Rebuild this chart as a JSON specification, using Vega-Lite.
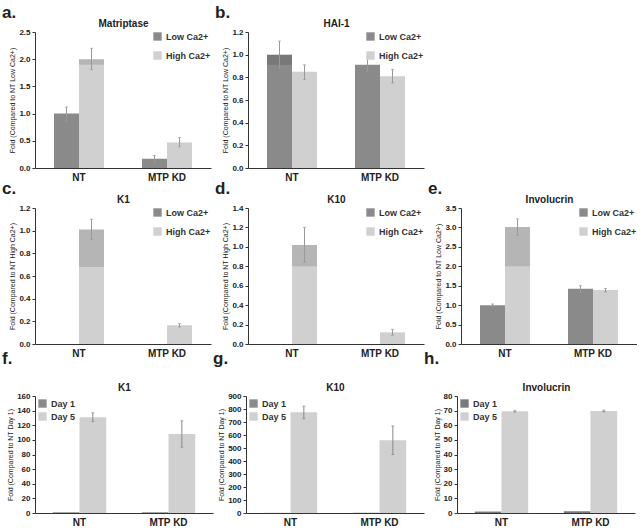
{
"$schema": "https://vega.github.io/schema/vega-lite/v6.json",
"padding": {"left": 2, "top": 4, "right": 0, "bottom": 0},
"background": "white",
"data": {"name": "bars"},
"datasets": {"bars": [
{"panel": "a", "group": "NT", "cond": "Low Ca2+", "value": 1.0, "lo": 0.86, "hi": 1.12},
{"panel": "a", "group": "NT", "cond": "High Ca2+", "value": 2.0, "shade": 1.9, "lo": 1.81, "hi": 2.2},
{"panel": "a", "group": "MTP KD", "cond": "Low Ca2+", "value": 0.17, "lo": 0.11, "hi": 0.23},
{"panel": "a", "group": "MTP KD", "cond": "High Ca2+", "value": 0.47, "lo": 0.39, "hi": 0.56},
{"panel": "b", "group": "NT", "cond": "Low Ca2+", "value": 1.0, "shade": 0.91, "lo": 0.88, "hi": 1.12},
{"panel": "b", "group": "NT", "cond": "High Ca2+", "value": 0.85, "lo": 0.78, "hi": 0.91},
{"panel": "b", "group": "MTP KD", "cond": "Low Ca2+", "value": 0.91, "lo": 0.85, "hi": 0.97},
{"panel": "b", "group": "MTP KD", "cond": "High Ca2+", "value": 0.81, "lo": 0.75, "hi": 0.87},
{"panel": "c", "group": "NT", "cond": "Low Ca2+", "value": 0},
{"panel": "c", "group": "NT", "cond": "High Ca2+", "value": 1.01, "shade": 0.68, "lo": 0.92, "hi": 1.1},
{"panel": "c", "group": "MTP KD", "cond": "Low Ca2+", "value": 0},
{"panel": "c", "group": "MTP KD", "cond": "High Ca2+", "value": 0.165, "lo": 0.15, "hi": 0.18},
{"panel": "d", "group": "NT", "cond": "Low Ca2+", "value": 0},
{"panel": "d", "group": "NT", "cond": "High Ca2+", "value": 1.02, "shade": 0.8, "lo": 0.84, "hi": 1.2},
{"panel": "d", "group": "MTP KD", "cond": "Low Ca2+", "value": 0},
{"panel": "d", "group": "MTP KD", "cond": "High Ca2+", "value": 0.12, "lo": 0.09, "hi": 0.15},
{"panel": "e", "group": "NT", "cond": "Low Ca2+", "value": 1.0, "lo": 0.96, "hi": 1.03},
{"panel": "e", "group": "NT", "cond": "High Ca2+", "value": 3.01, "shade": 2.0, "lo": 2.8, "hi": 3.22},
{"panel": "e", "group": "MTP KD", "cond": "Low Ca2+", "value": 1.42, "lo": 1.33, "hi": 1.5},
{"panel": "e", "group": "MTP KD", "cond": "High Ca2+", "value": 1.39, "lo": 1.34, "hi": 1.43},
{"panel": "f", "group": "NT", "cond": "Day 1", "value": 1},
{"panel": "f", "group": "NT", "cond": "Day 5", "value": 131, "lo": 125, "hi": 137},
{"panel": "f", "group": "MTP KD", "cond": "Day 1", "value": 1},
{"panel": "f", "group": "MTP KD", "cond": "Day 5", "value": 108, "lo": 90, "hi": 126},
{"panel": "g", "group": "NT", "cond": "Day 1", "value": 1},
{"panel": "g", "group": "NT", "cond": "Day 5", "value": 775, "lo": 725, "hi": 822},
{"panel": "g", "group": "MTP KD", "cond": "Day 1", "value": 1},
{"panel": "g", "group": "MTP KD", "cond": "Day 5", "value": 560, "lo": 450, "hi": 670},
{"panel": "h", "group": "NT", "cond": "Day 1", "value": 1.0},
{"panel": "h", "group": "NT", "cond": "Day 5", "value": 69.5, "lo": 69.0, "hi": 70.0},
{"panel": "h", "group": "MTP KD", "cond": "Day 1", "value": 1.2},
{"panel": "h", "group": "MTP KD", "cond": "Day 5", "value": 69.7, "lo": 69.2, "hi": 70.3}
]},
"config": {
"view": {"stroke": null},
"font": "Liberation Sans",
"axis": {"grid": false, "domainColor": "#333", "tickColor": "#333", "labelColor": "#222", "titleColor": "#222"},
"axisX": {"ticks": false, "labelFontSize": 10, "labelFontWeight": "bold", "labelPadding": 4, "labelAngle": 0},
"axisY": {"labelFontSize": 8, "labelFontWeight": "bold", "tickSize": 3, "labelPadding": 2, "titleFontSize": 7, "titleFontWeight": "normal", "titlePadding": 3, "labelOverlap": false, "labelFlush": false},
"legend": {"symbolType": "square", "symbolSize": 70, "labelFontSize": 9, "labelFontWeight": "bold", "rowPadding": 9, "offset": 0, "padding": 0, "symbolStrokeWidth": 0, "labelColor": "#333"},
"title": {"color": "#222", "anchor": "start", "frame": "group", "dx": -33, "fontSize": 17, "fontWeight": "bold", "offset": -4}
},
"spacing": -8,
"resolve": {"scale": {"x": "independent", "y": "independent", "color": "independent", "xOffset": "independent"}},
"vconcat": [
{
"spacing": -2,
"resolve": {"scale": {"x": "independent", "y": "independent", "color": "independent", "xOffset": "independent"}},
"vconcat": [
{
"spacing": 4,
"resolve": {"scale": {"x": "independent", "y": "independent", "color": "independent", "xOffset": "independent"}},
"hconcat": [
{
"width": 176, "height": 136,
"title": "a.",
"transform": [{"filter": "datum.panel == 'a'"}],
"resolve": {"axis": {"x": "independent"}},
"encoding": {
"xOffset": {"field": "cond", "type": "nominal", "sort": ["Low Ca2+", "High Ca2+"], "scale": {"paddingInner": 0, "paddingOuter": 0.76}}
},
"layer": [
{"mark": "bar", "encoding": {"x": {"field": "group", "type": "nominal", "sort": ["NT", "MTP KD"], "title": null, "scale": {"paddingInner": 0, "paddingOuter": 0}}, "y": {"field": "value", "type": "quantitative", "title": "Fold (Compared to NT Low Ca2+)", "scale": {"domain": [0, 2.5], "nice": false}, "axis": {"values": [0, 0.5, 1, 1.5, 2, 2.5], "format": ".1f", "labelOverlap": false}}, "color": {"field": "cond", "type": "nominal", "scale": {"domain": ["Low Ca2+", "High Ca2+"], "range": ["#8a8a8a", "#d0d0d0"]}, "legend": {"orient": "top-right", "title": null}}}},
{"transform": [{"filter": "isValid(datum.shade)"}], "mark": {"type": "bar", "color": "#000", "opacity": 0.13}, "encoding": {"x": {"field": "group", "type": "nominal", "sort": ["NT", "MTP KD"], "axis": null}, "y": {"field": "shade", "type": "quantitative", "title": "Fold (Compared to NT Low Ca2+)", "axis": {"values": [0, 0.5, 1, 1.5, 2, 2.5], "format": ".1f", "labelOverlap": false}}, "y2": {"field": "value"}}},
{"transform": [{"filter": "isValid(datum.lo)"}], "mark": {"type": "rule", "color": "#999"}, "encoding": {"x": {"field": "group", "type": "nominal", "sort": ["NT", "MTP KD"], "title": "Matriptase", "axis": {"orient": "top", "labels": false, "ticks": false, "domain": false, "titleFontSize": 10, "titleFontWeight": "bold", "titlePadding": 4}}, "y": {"field": "lo", "type": "quantitative", "title": "Fold (Compared to NT Low Ca2+)", "axis": {"values": [0, 0.5, 1, 1.5, 2, 2.5], "format": ".1f", "labelOverlap": false}}, "y2": {"field": "hi"}}},
{"transform": [{"filter": "isValid(datum.lo)"}], "mark": {"type": "tick", "color": "#999", "size": 3, "thickness": 1}, "encoding": {"x": {"field": "group", "type": "nominal", "sort": ["NT", "MTP KD"], "axis": null}, "y": {"field": "lo", "type": "quantitative", "title": "Fold (Compared to NT Low Ca2+)", "axis": {"values": [0, 0.5, 1, 1.5, 2, 2.5], "format": ".1f", "labelOverlap": false}}}},
{"transform": [{"filter": "isValid(datum.hi)"}], "mark": {"type": "tick", "color": "#999", "size": 3, "thickness": 1}, "encoding": {"x": {"field": "group", "type": "nominal", "sort": ["NT", "MTP KD"], "axis": null}, "y": {"field": "hi", "type": "quantitative", "title": "Fold (Compared to NT Low Ca2+)", "axis": {"values": [0, 0.5, 1, 1.5, 2, 2.5], "format": ".1f", "labelOverlap": false}}}}
]
},
{
"width": 176, "height": 136,
"title": "b.",
"transform": [{"filter": "datum.panel == 'b'"}],
"resolve": {"axis": {"x": "independent"}},
"encoding": {
"xOffset": {"field": "cond", "type": "nominal", "sort": ["Low Ca2+", "High Ca2+"], "scale": {"paddingInner": 0, "paddingOuter": 0.76}}
},
"layer": [
{"mark": "bar", "encoding": {"x": {"field": "group", "type": "nominal", "sort": ["NT", "MTP KD"], "title": null, "scale": {"paddingInner": 0, "paddingOuter": 0}}, "y": {"field": "value", "type": "quantitative", "title": "Fold (Compared to NT Low Ca2+)", "scale": {"domain": [0, 1.2], "nice": false}, "axis": {"values": [0, 0.2, 0.4, 0.6, 0.8, 1.0, 1.2], "format": ".1f", "labelOverlap": false}}, "color": {"field": "cond", "type": "nominal", "scale": {"domain": ["Low Ca2+", "High Ca2+"], "range": ["#8a8a8a", "#d0d0d0"]}, "legend": {"orient": "top-right", "title": null}}}},
{"transform": [{"filter": "isValid(datum.shade)"}], "mark": {"type": "bar", "color": "#000", "opacity": 0.13}, "encoding": {"x": {"field": "group", "type": "nominal", "sort": ["NT", "MTP KD"], "axis": null}, "y": {"field": "shade", "type": "quantitative", "title": "Fold (Compared to NT Low Ca2+)", "axis": {"values": [0, 0.2, 0.4, 0.6, 0.8, 1.0, 1.2], "format": ".1f", "labelOverlap": false}}, "y2": {"field": "value"}}},
{"transform": [{"filter": "isValid(datum.lo)"}], "mark": {"type": "rule", "color": "#999"}, "encoding": {"x": {"field": "group", "type": "nominal", "sort": ["NT", "MTP KD"], "title": "HAI-1", "axis": {"orient": "top", "labels": false, "ticks": false, "domain": false, "titleFontSize": 10, "titleFontWeight": "bold", "titlePadding": 4}}, "y": {"field": "lo", "type": "quantitative", "title": "Fold (Compared to NT Low Ca2+)", "axis": {"values": [0, 0.2, 0.4, 0.6, 0.8, 1.0, 1.2], "format": ".1f", "labelOverlap": false}}, "y2": {"field": "hi"}}},
{"transform": [{"filter": "isValid(datum.lo)"}], "mark": {"type": "tick", "color": "#999", "size": 3, "thickness": 1}, "encoding": {"x": {"field": "group", "type": "nominal", "sort": ["NT", "MTP KD"], "axis": null}, "y": {"field": "lo", "type": "quantitative", "title": "Fold (Compared to NT Low Ca2+)", "axis": {"values": [0, 0.2, 0.4, 0.6, 0.8, 1.0, 1.2], "format": ".1f", "labelOverlap": false}}}},
{"transform": [{"filter": "isValid(datum.hi)"}], "mark": {"type": "tick", "color": "#999", "size": 3, "thickness": 1}, "encoding": {"x": {"field": "group", "type": "nominal", "sort": ["NT", "MTP KD"], "axis": null}, "y": {"field": "hi", "type": "quantitative", "title": "Fold (Compared to NT Low Ca2+)", "axis": {"values": [0, 0.2, 0.4, 0.6, 0.8, 1.0, 1.2], "format": ".1f", "labelOverlap": false}}}}
]
}
]
},
{
"spacing": 4,
"resolve": {"scale": {"x": "independent", "y": "independent", "color": "independent", "xOffset": "independent"}},
"hconcat": [
{
"width": 176, "height": 136,
"title": "c.",
"transform": [{"filter": "datum.panel == 'c'"}],
"resolve": {"axis": {"x": "independent"}},
"encoding": {
"xOffset": {"field": "cond", "type": "nominal", "sort": ["Low Ca2+", "High Ca2+"], "scale": {"paddingInner": 0, "paddingOuter": 0.76}}
},
"layer": [
{"mark": "bar", "encoding": {"x": {"field": "group", "type": "nominal", "sort": ["NT", "MTP KD"], "title": null, "scale": {"paddingInner": 0, "paddingOuter": 0}}, "y": {"field": "value", "type": "quantitative", "title": "Fold (Compared to NT High Ca2+)", "scale": {"domain": [0, 1.2], "nice": false}, "axis": {"values": [0, 0.2, 0.4, 0.6, 0.8, 1.0, 1.2], "format": ".1f", "labelOverlap": false}}, "color": {"field": "cond", "type": "nominal", "scale": {"domain": ["Low Ca2+", "High Ca2+"], "range": ["#8a8a8a", "#d0d0d0"]}, "legend": {"orient": "top-right", "title": null}}}},
{"transform": [{"filter": "isValid(datum.shade)"}], "mark": {"type": "bar", "color": "#000", "opacity": 0.13}, "encoding": {"x": {"field": "group", "type": "nominal", "sort": ["NT", "MTP KD"], "axis": null}, "y": {"field": "shade", "type": "quantitative", "title": "Fold (Compared to NT High Ca2+)", "axis": {"values": [0, 0.2, 0.4, 0.6, 0.8, 1.0, 1.2], "format": ".1f", "labelOverlap": false}}, "y2": {"field": "value"}}},
{"transform": [{"filter": "isValid(datum.lo)"}], "mark": {"type": "rule", "color": "#999"}, "encoding": {"x": {"field": "group", "type": "nominal", "sort": ["NT", "MTP KD"], "title": "K1", "axis": {"orient": "top", "labels": false, "ticks": false, "domain": false, "titleFontSize": 10, "titleFontWeight": "bold", "titlePadding": 4}}, "y": {"field": "lo", "type": "quantitative", "title": "Fold (Compared to NT High Ca2+)", "axis": {"values": [0, 0.2, 0.4, 0.6, 0.8, 1.0, 1.2], "format": ".1f", "labelOverlap": false}}, "y2": {"field": "hi"}}},
{"transform": [{"filter": "isValid(datum.lo)"}], "mark": {"type": "tick", "color": "#999", "size": 3, "thickness": 1}, "encoding": {"x": {"field": "group", "type": "nominal", "sort": ["NT", "MTP KD"], "axis": null}, "y": {"field": "lo", "type": "quantitative", "title": "Fold (Compared to NT High Ca2+)", "axis": {"values": [0, 0.2, 0.4, 0.6, 0.8, 1.0, 1.2], "format": ".1f", "labelOverlap": false}}}},
{"transform": [{"filter": "isValid(datum.hi)"}], "mark": {"type": "tick", "color": "#999", "size": 3, "thickness": 1}, "encoding": {"x": {"field": "group", "type": "nominal", "sort": ["NT", "MTP KD"], "axis": null}, "y": {"field": "hi", "type": "quantitative", "title": "Fold (Compared to NT High Ca2+)", "axis": {"values": [0, 0.2, 0.4, 0.6, 0.8, 1.0, 1.2], "format": ".1f", "labelOverlap": false}}}}
]
},
{
"width": 176, "height": 136,
"title": "d.",
"transform": [{"filter": "datum.panel == 'd'"}],
"resolve": {"axis": {"x": "independent"}},
"encoding": {
"xOffset": {"field": "cond", "type": "nominal", "sort": ["Low Ca2+", "High Ca2+"], "scale": {"paddingInner": 0, "paddingOuter": 0.76}}
},
"layer": [
{"mark": "bar", "encoding": {"x": {"field": "group", "type": "nominal", "sort": ["NT", "MTP KD"], "title": null, "scale": {"paddingInner": 0, "paddingOuter": 0}}, "y": {"field": "value", "type": "quantitative", "title": "Fold (Compared to NT High Ca2+)", "scale": {"domain": [0, 1.4], "nice": false}, "axis": {"values": [0, 0.2, 0.4, 0.6, 0.8, 1.0, 1.2, 1.4], "format": ".1f", "labelOverlap": false}}, "color": {"field": "cond", "type": "nominal", "scale": {"domain": ["Low Ca2+", "High Ca2+"], "range": ["#8a8a8a", "#d0d0d0"]}, "legend": {"orient": "top-right", "title": null}}}},
{"transform": [{"filter": "isValid(datum.shade)"}], "mark": {"type": "bar", "color": "#000", "opacity": 0.13}, "encoding": {"x": {"field": "group", "type": "nominal", "sort": ["NT", "MTP KD"], "axis": null}, "y": {"field": "shade", "type": "quantitative", "title": "Fold (Compared to NT High Ca2+)", "axis": {"values": [0, 0.2, 0.4, 0.6, 0.8, 1.0, 1.2, 1.4], "format": ".1f", "labelOverlap": false}}, "y2": {"field": "value"}}},
{"transform": [{"filter": "isValid(datum.lo)"}], "mark": {"type": "rule", "color": "#999"}, "encoding": {"x": {"field": "group", "type": "nominal", "sort": ["NT", "MTP KD"], "title": "K10", "axis": {"orient": "top", "labels": false, "ticks": false, "domain": false, "titleFontSize": 10, "titleFontWeight": "bold", "titlePadding": 4}}, "y": {"field": "lo", "type": "quantitative", "title": "Fold (Compared to NT High Ca2+)", "axis": {"values": [0, 0.2, 0.4, 0.6, 0.8, 1.0, 1.2, 1.4], "format": ".1f", "labelOverlap": false}}, "y2": {"field": "hi"}}},
{"transform": [{"filter": "isValid(datum.lo)"}], "mark": {"type": "tick", "color": "#999", "size": 3, "thickness": 1}, "encoding": {"x": {"field": "group", "type": "nominal", "sort": ["NT", "MTP KD"], "axis": null}, "y": {"field": "lo", "type": "quantitative", "title": "Fold (Compared to NT High Ca2+)", "axis": {"values": [0, 0.2, 0.4, 0.6, 0.8, 1.0, 1.2, 1.4], "format": ".1f", "labelOverlap": false}}}},
{"transform": [{"filter": "isValid(datum.hi)"}], "mark": {"type": "tick", "color": "#999", "size": 3, "thickness": 1}, "encoding": {"x": {"field": "group", "type": "nominal", "sort": ["NT", "MTP KD"], "axis": null}, "y": {"field": "hi", "type": "quantitative", "title": "Fold (Compared to NT High Ca2+)", "axis": {"values": [0, 0.2, 0.4, 0.6, 0.8, 1.0, 1.2, 1.4], "format": ".1f", "labelOverlap": false}}}}
]
},
{
"width": 176, "height": 136,
"title": "e.",
"transform": [{"filter": "datum.panel == 'e'"}],
"resolve": {"axis": {"x": "independent"}},
"encoding": {
"xOffset": {"field": "cond", "type": "nominal", "sort": ["Low Ca2+", "High Ca2+"], "scale": {"paddingInner": 0, "paddingOuter": 0.76}}
},
"layer": [
{"mark": "bar", "encoding": {"x": {"field": "group", "type": "nominal", "sort": ["NT", "MTP KD"], "title": null, "scale": {"paddingInner": 0, "paddingOuter": 0}}, "y": {"field": "value", "type": "quantitative", "title": "Fold (Compared to NT Low Ca2+)", "scale": {"domain": [0, 3.5], "nice": false}, "axis": {"values": [0, 0.5, 1, 1.5, 2, 2.5, 3, 3.5], "format": ".1f", "labelOverlap": false}}, "color": {"field": "cond", "type": "nominal", "scale": {"domain": ["Low Ca2+", "High Ca2+"], "range": ["#8a8a8a", "#d0d0d0"]}, "legend": {"orient": "top-right", "title": null}}}},
{"transform": [{"filter": "isValid(datum.shade)"}], "mark": {"type": "bar", "color": "#000", "opacity": 0.13}, "encoding": {"x": {"field": "group", "type": "nominal", "sort": ["NT", "MTP KD"], "axis": null}, "y": {"field": "shade", "type": "quantitative", "title": "Fold (Compared to NT Low Ca2+)", "axis": {"values": [0, 0.5, 1, 1.5, 2, 2.5, 3, 3.5], "format": ".1f", "labelOverlap": false}}, "y2": {"field": "value"}}},
{"transform": [{"filter": "isValid(datum.lo)"}], "mark": {"type": "rule", "color": "#999"}, "encoding": {"x": {"field": "group", "type": "nominal", "sort": ["NT", "MTP KD"], "title": "Involucrin", "axis": {"orient": "top", "labels": false, "ticks": false, "domain": false, "titleFontSize": 10, "titleFontWeight": "bold", "titlePadding": 4}}, "y": {"field": "lo", "type": "quantitative", "title": "Fold (Compared to NT Low Ca2+)", "axis": {"values": [0, 0.5, 1, 1.5, 2, 2.5, 3, 3.5], "format": ".1f", "labelOverlap": false}}, "y2": {"field": "hi"}}},
{"transform": [{"filter": "isValid(datum.lo)"}], "mark": {"type": "tick", "color": "#999", "size": 3, "thickness": 1}, "encoding": {"x": {"field": "group", "type": "nominal", "sort": ["NT", "MTP KD"], "axis": null}, "y": {"field": "lo", "type": "quantitative", "title": "Fold (Compared to NT Low Ca2+)", "axis": {"values": [0, 0.5, 1, 1.5, 2, 2.5, 3, 3.5], "format": ".1f", "labelOverlap": false}}}},
{"transform": [{"filter": "isValid(datum.hi)"}], "mark": {"type": "tick", "color": "#999", "size": 3, "thickness": 1}, "encoding": {"x": {"field": "group", "type": "nominal", "sort": ["NT", "MTP KD"], "axis": null}, "y": {"field": "hi", "type": "quantitative", "title": "Fold (Compared to NT Low Ca2+)", "axis": {"values": [0, 0.5, 1, 1.5, 2, 2.5, 3, 3.5], "format": ".1f", "labelOverlap": false}}}}
]
}
]
}
]
},
{
"spacing": 0,
"resolve": {"scale": {"x": "independent", "y": "independent", "color": "independent", "xOffset": "independent"}},
"hconcat": [
{
"width": 178, "height": 117,
"title": {"text": "f.", "offset": 14},
"transform": [{"filter": "datum.panel == 'f'"}],
"resolve": {"axis": {"x": "independent"}},
"encoding": {
"xOffset": {"field": "cond", "type": "nominal", "sort": ["Day 1", "Day 5"], "scale": {"paddingInner": 0, "paddingOuter": 0.667}}
},
"layer": [
{"mark": "bar", "encoding": {"x": {"field": "group", "type": "nominal", "sort": ["NT", "MTP KD"], "title": null, "scale": {"paddingInner": 0, "paddingOuter": 0}}, "y": {"field": "value", "type": "quantitative", "title": "Fold (Compared to NT Day 1)", "scale": {"domain": [0, 160], "nice": false}, "axis": {"values": [0, 20, 40, 60, 80, 100, 120, 140, 160], "labelOverlap": false}}, "color": {"field": "cond", "type": "nominal", "scale": {"domain": ["Day 1", "Day 5"], "range": ["#8a8a8a", "#d0d0d0"]}, "legend": {"orient": "top-left", "title": null, "offset": 3, "rowPadding": 3}}}},
{"transform": [{"filter": "isValid(datum.lo)"}], "mark": {"type": "rule", "color": "#888"}, "encoding": {"x": {"field": "group", "type": "nominal", "sort": ["NT", "MTP KD"], "title": "K1", "axis": {"orient": "top", "labels": false, "ticks": false, "domain": false, "titleFontSize": 10, "titleFontWeight": "bold", "titlePadding": 4}}, "y": {"field": "lo", "type": "quantitative", "title": "Fold (Compared to NT Day 1)", "axis": {"values": [0, 20, 40, 60, 80, 100, 120, 140, 160], "labelOverlap": false}}, "y2": {"field": "hi"}}},
{"transform": [{"filter": "isValid(datum.lo)"}], "mark": {"type": "tick", "color": "#888", "size": 3, "thickness": 1}, "encoding": {"x": {"field": "group", "type": "nominal", "sort": ["NT", "MTP KD"], "axis": null}, "y": {"field": "lo", "type": "quantitative", "title": "Fold (Compared to NT Day 1)", "axis": {"values": [0, 20, 40, 60, 80, 100, 120, 140, 160], "labelOverlap": false}}}},
{"transform": [{"filter": "isValid(datum.hi)"}], "mark": {"type": "tick", "color": "#888", "size": 3, "thickness": 1}, "encoding": {"x": {"field": "group", "type": "nominal", "sort": ["NT", "MTP KD"], "axis": null}, "y": {"field": "hi", "type": "quantitative", "title": "Fold (Compared to NT Day 1)", "axis": {"values": [0, 20, 40, 60, 80, 100, 120, 140, 160], "labelOverlap": false}}}}
]
},
{
"width": 178, "height": 117,
"title": {"text": "g.", "offset": 14},
"transform": [{"filter": "datum.panel == 'g'"}],
"resolve": {"axis": {"x": "independent"}},
"encoding": {
"xOffset": {"field": "cond", "type": "nominal", "sort": ["Day 1", "Day 5"], "scale": {"paddingInner": 0, "paddingOuter": 0.667}}
},
"layer": [
{"mark": "bar", "encoding": {"x": {"field": "group", "type": "nominal", "sort": ["NT", "MTP KD"], "title": null, "scale": {"paddingInner": 0, "paddingOuter": 0}}, "y": {"field": "value", "type": "quantitative", "title": "Fold (Compared to NT Day 1)", "scale": {"domain": [0, 900], "nice": false}, "axis": {"values": [0, 100, 200, 300, 400, 500, 600, 700, 800, 900], "labelOverlap": false}}, "color": {"field": "cond", "type": "nominal", "scale": {"domain": ["Day 1", "Day 5"], "range": ["#8a8a8a", "#d0d0d0"]}, "legend": {"orient": "top-left", "title": null, "offset": 3, "rowPadding": 3}}}},
{"transform": [{"filter": "isValid(datum.lo)"}], "mark": {"type": "rule", "color": "#888"}, "encoding": {"x": {"field": "group", "type": "nominal", "sort": ["NT", "MTP KD"], "title": "K10", "axis": {"orient": "top", "labels": false, "ticks": false, "domain": false, "titleFontSize": 10, "titleFontWeight": "bold", "titlePadding": 4}}, "y": {"field": "lo", "type": "quantitative", "title": "Fold (Compared to NT Day 1)", "axis": {"values": [0, 100, 200, 300, 400, 500, 600, 700, 800, 900], "labelOverlap": false}}, "y2": {"field": "hi"}}},
{"transform": [{"filter": "isValid(datum.lo)"}], "mark": {"type": "tick", "color": "#888", "size": 3, "thickness": 1}, "encoding": {"x": {"field": "group", "type": "nominal", "sort": ["NT", "MTP KD"], "axis": null}, "y": {"field": "lo", "type": "quantitative", "title": "Fold (Compared to NT Day 1)", "axis": {"values": [0, 100, 200, 300, 400, 500, 600, 700, 800, 900], "labelOverlap": false}}}},
{"transform": [{"filter": "isValid(datum.hi)"}], "mark": {"type": "tick", "color": "#888", "size": 3, "thickness": 1}, "encoding": {"x": {"field": "group", "type": "nominal", "sort": ["NT", "MTP KD"], "axis": null}, "y": {"field": "hi", "type": "quantitative", "title": "Fold (Compared to NT Day 1)", "axis": {"values": [0, 100, 200, 300, 400, 500, 600, 700, 800, 900], "labelOverlap": false}}}}
]
},
{
"width": 178, "height": 117,
"title": {"text": "h.", "offset": 14},
"transform": [{"filter": "datum.panel == 'h'"}],
"resolve": {"axis": {"x": "independent"}},
"encoding": {
"xOffset": {"field": "cond", "type": "nominal", "sort": ["Day 1", "Day 5"], "scale": {"paddingInner": 0, "paddingOuter": 0.667}}
},
"layer": [
{"mark": "bar", "encoding": {"x": {"field": "group", "type": "nominal", "sort": ["NT", "MTP KD"], "title": null, "scale": {"paddingInner": 0, "paddingOuter": 0}}, "y": {"field": "value", "type": "quantitative", "title": "Fold (Compared to NT Day 1)", "scale": {"domain": [0, 80], "nice": false}, "axis": {"values": [0, 10, 20, 30, 40, 50, 60, 70, 80], "labelOverlap": false}}, "color": {"field": "cond", "type": "nominal", "scale": {"domain": ["Day 1", "Day 5"], "range": ["#7a7a7a", "#d0d0d0"]}, "legend": {"orient": "top-left", "title": null, "offset": 3, "rowPadding": 3}}}},
{"transform": [{"filter": "isValid(datum.lo)"}], "mark": {"type": "rule", "color": "#888"}, "encoding": {"x": {"field": "group", "type": "nominal", "sort": ["NT", "MTP KD"], "title": "Involucrin", "axis": {"orient": "top", "labels": false, "ticks": false, "domain": false, "titleFontSize": 10, "titleFontWeight": "bold", "titlePadding": 4}}, "y": {"field": "lo", "type": "quantitative", "title": "Fold (Compared to NT Day 1)", "axis": {"values": [0, 10, 20, 30, 40, 50, 60, 70, 80], "labelOverlap": false}}, "y2": {"field": "hi"}}},
{"transform": [{"filter": "isValid(datum.lo)"}], "mark": {"type": "tick", "color": "#888", "size": 3, "thickness": 1}, "encoding": {"x": {"field": "group", "type": "nominal", "sort": ["NT", "MTP KD"], "axis": null}, "y": {"field": "lo", "type": "quantitative", "title": "Fold (Compared to NT Day 1)", "axis": {"values": [0, 10, 20, 30, 40, 50, 60, 70, 80], "labelOverlap": false}}}},
{"transform": [{"filter": "isValid(datum.hi)"}], "mark": {"type": "tick", "color": "#888", "size": 3, "thickness": 1}, "encoding": {"x": {"field": "group", "type": "nominal", "sort": ["NT", "MTP KD"], "axis": null}, "y": {"field": "hi", "type": "quantitative", "title": "Fold (Compared to NT Day 1)", "axis": {"values": [0, 10, 20, 30, 40, 50, 60, 70, 80], "labelOverlap": false}}}}
]
}
]
}
]
}
